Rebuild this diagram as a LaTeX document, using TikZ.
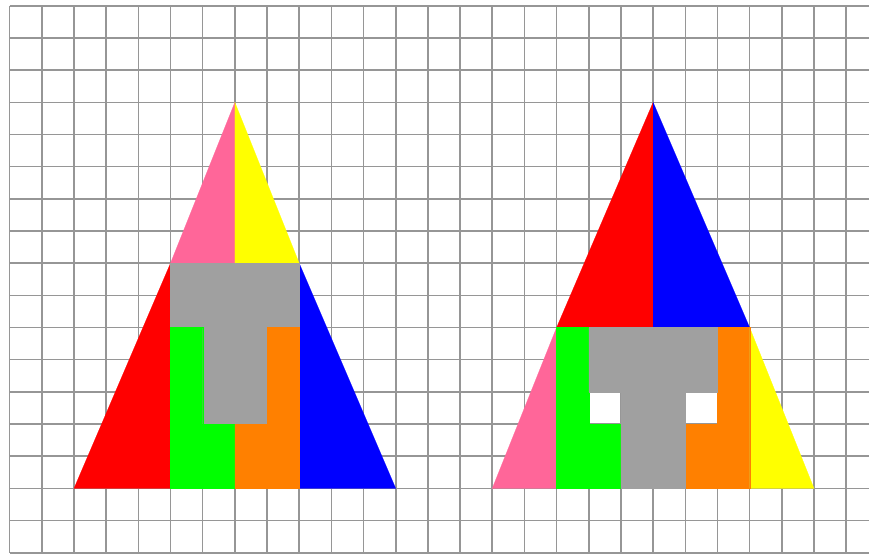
\documentclass[tikz,border=0pt]{standalone}
\usepackage{tikz}
\definecolor{gridgray}{RGB}{150,150,150}
\definecolor{tpink}{RGB}{255,102,153}
\definecolor{tyellow}{RGB}{255,255,0}
\definecolor{tred}{RGB}{255,0,0}
\definecolor{tblue}{RGB}{0,0,255}
\definecolor{tgreen}{RGB}{0,255,0}
\definecolor{torange}{RGB}{255,128,0}
\definecolor{tgray}{RGB}{160,160,160}
\tikzset{
  gridline/.style={
    draw=gridgray,
    line width=1.4pt
  },
  piece/.style={
    fill=#1,
    draw=#1,
    line width=0.2pt
  }
}
\def\rightShift{13}

\begin{document}
\begin{tikzpicture}[x=1cm,y=1cm]
  % Same margins as the reference
  \useasboundingbox (-0.3,-2.07) rectangle (26.71,15.18);

  % Background grid, one cell per unit
  \draw[gridline] (0,-2) grid (26.71,15);

  % Left triangle
  \begin{scope}
    \fill[piece=tpink]   (7,12) -- (5,7) -- (7,7) -- cycle;
    \fill[piece=tyellow] (7,12) -- (7,7) -- (9,7) -- cycle;
    \fill[piece=tred]    (5,7) -- (2,0) -- (5,0) -- cycle;
    \fill[piece=tblue]   (9,7) -- (12,0) -- (9,0) -- cycle;
    \fill[piece=tgray]   (5,7) -- (9,7) -- (9,5) -- (8,5) -- (8,2) -- (6,2) -- (6,5) -- (5,5) -- cycle;
    \fill[piece=tgreen]  (5,5) -- (6,5) -- (6,2) -- (7,2) -- (7,0) -- (5,0) -- cycle;
    \fill[piece=torange] (8,5) -- (9,5) -- (9,0) -- (7,0) -- (7,2) -- (8,2) -- cycle;
  \end{scope}

  % Right triangle, same pieces rearranged (two cells left open)
  \begin{scope}[xshift=\rightShift cm]
    \fill[piece=tred]    (7,12) -- (4,5) -- (7,5) -- cycle;
    \fill[piece=tblue]   (7,12) -- (7,5) -- (10,5) -- cycle;
    \fill[piece=tpink]   (4,5) -- (2,0) -- (4,0) -- cycle;
    \fill[piece=tyellow] (10,5) -- (12,0) -- (10,0) -- cycle;
    \fill[piece=tgreen]  (4,5) -- (5,5) -- (5,2) -- (6,2) -- (6,0) -- (4,0) -- cycle;
    \fill[piece=torange] (9,5) -- (10,5) -- (10,0) -- (8,0) -- (8,2) -- (9,2) -- cycle;
    \fill[piece=tgray]   (5,5) -- (9,5) -- (9,3) -- (8,3) -- (8,0) -- (6,0) -- (6,3) -- (5,3) -- cycle;
  \end{scope}
\end{tikzpicture}
\end{document}
